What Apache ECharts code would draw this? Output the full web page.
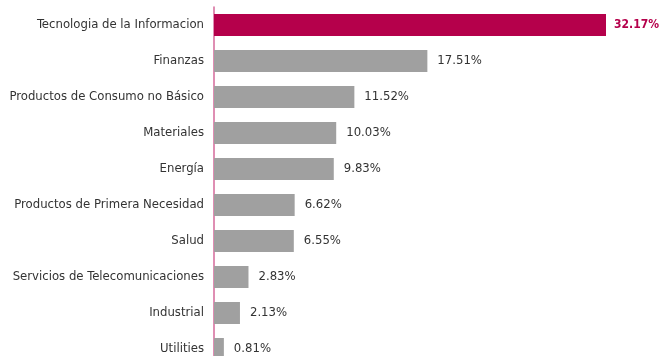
<!DOCTYPE html>
<html>
<head>
<meta charset="utf-8">
<script src="https://cdn.jsdelivr.net/npm/echarts@6/dist/echarts.min.js"></script>
<style>
  html, body { margin: 0; padding: 0; background: #ffffff; overflow: hidden; }
  /* taller than the window: the last row runs past the bottom edge */
  #chart { width: 661px; height: 370px; }
</style>
</head>
<body>
<div id="chart"></div>
<script>
// Sector weights, listed top to bottom
const sectors = [
  'Tecnologia de la Informacion',
  'Finanzas',
  'Productos de Consumo no Básico',
  'Materiales',
  'Energía',
  'Productos de Primera Necesidad',
  'Salud',
  'Servicios de Telecomunicaciones',
  'Industrial',
  'Utilities'
];
const weights = [32.17, 17.51, 11.52, 10.03, 9.83, 6.62, 6.55, 2.83, 2.13, 0.81];
const highlightIndex = 0;

const FONT = '"DejaVu Sans Condensed", sans-serif';
const ACCENT = '#b5004b';
const GREY = '#a0a0a0';

const chart = echarts.init(document.getElementById('chart'), null, { renderer: 'canvas' });

chart.setOption({
  animation: false,
  backgroundColor: '#ffffff',
  grid: { left: 214, right: 55, top: 7, bottom: 3, containLabel: false },
  xAxis: {
    type: 'value',
    min: 0,
    max: 32.17,
    show: false
  },
  yAxis: {
    type: 'category',
    inverse: true,
    data: sectors,
    axisLine: { show: true, lineStyle: { color: '#d4689a', width: 1.5 } },
    axisTick: { show: false },
    axisLabel: {
      margin: 10,
      color: '#333333',
      fontFamily: FONT,
      fontSize: 13
    }
  },
  series: [{
    type: 'bar',
    barWidth: 22,
    data: weights.map((v, i) => ({
      value: v,
      itemStyle: { color: i === highlightIndex ? ACCENT : GREY },
      label: i === highlightIndex
        ? { color: ACCENT, fontWeight: 'bold', fontSize: 12, distance: 8 }
        : {}
    })),
    label: {
      show: true,
      position: 'right',
      distance: 10,
      color: '#333333',
      fontFamily: FONT,
      fontSize: 13,
      formatter: p => p.value.toFixed(2) + '%'
    }
  }]
});
</script>
</body>
</html>
